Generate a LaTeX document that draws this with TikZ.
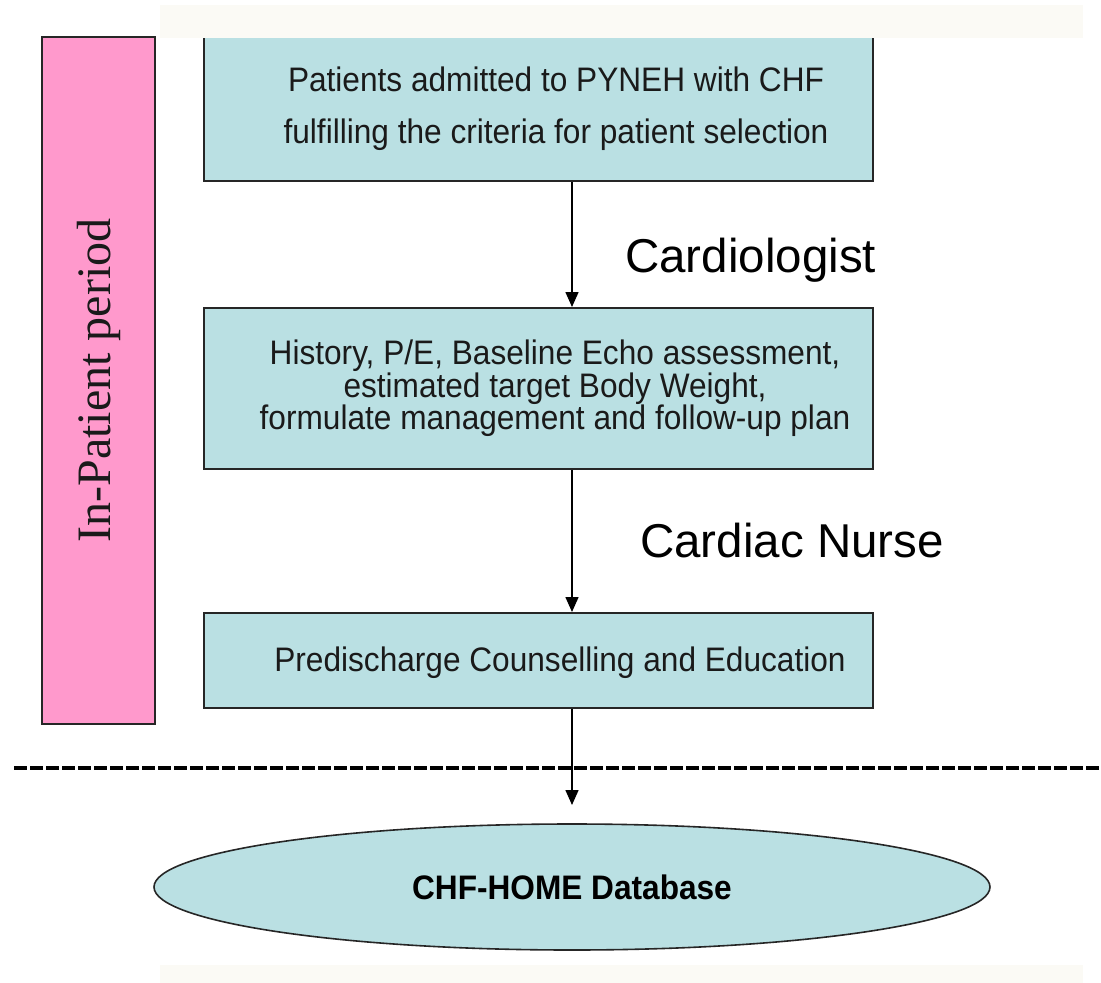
\documentclass[tikz,border=0pt]{standalone}
\usepackage{fontspec}
\setmainfont{Liberation Sans}
\newfontfamily\boxfont[FakeStretch=0.93]{Liberation Sans}
\newfontfamily\labfont{Liberation Sans}
\newfontfamily\seriffont{Liberation Serif}
\usetikzlibrary{shapes.geometric,arrows.meta,calc}
\definecolor{boxfill}{HTML}{BAE0E3}
\definecolor{pinkfill}{HTML}{FF99CC}
\definecolor{stripcol}{HTML}{FBFAF5}
\definecolor{txt}{HTML}{1A1A1A}
\definecolor{edge}{HTML}{262626}
\tikzset{
  flowbox/.style={draw=edge, line width=2pt, fill=boxfill, minimum width=669pt,
    inner sep=0pt},
  boxtext/.style={inner sep=0pt, text=txt, align=center},
  phasebox/.style={draw=edge, line width=2pt, fill=pinkfill, rotate=90,
    minimum width=687pt, minimum height=113pt, inner sep=0pt,
    font=\seriffont\fontsize{48}{50}\selectfont, text=txt},
  dbnode/.style={ellipse, draw=edge, line width=1.6pt, fill=boxfill,
    minimum width=836pt, minimum height=126pt, inner sep=0pt,
    font=\boxfont\bfseries\fontsize{34}{35}\selectfont, text=black},
  rolelab/.style={anchor=base west, inner sep=0pt,
    font=\labfont\fontsize{47.5}{50}\selectfont, text=black},
  flowarrow/.style={line width=1.5pt, draw=black,
    -{Triangle[length=15pt,width=13pt]}},
  divider/.style={line width=4pt, draw=black, dash pattern=on 13pt off 3pt}
}
\begin{document}
\begin{tikzpicture}[x=1pt,y=-1pt]
\useasboundingbox (0,0) rectangle (1101,983);
\fill[white] (0,0) rectangle (1101,983);

% phase bar
\node[phasebox] (phase) at (98.5,380.5) {In-Patient period};

% flow boxes
\node[flowbox, minimum height=145pt] (box1) at (538.5,108.5) {};
\node[boxtext, font=\boxfont\fontsize{34}{52}\selectfont] (t1) at (556,108.5)
  {Patients admitted to PYNEH with CHF\\fulfilling the criteria for patient selection};
\node[flowbox, minimum height=161pt] (box2) at (538.5,388.5) {};
\node[boxtext, font=\boxfont\fontsize{34}{31}\selectfont] (t2) at (555,388.5)
  {History, P/E, Baseline Echo assessment,\\estimated target Body Weight,\\formulate management and follow-up plan};
\node[flowbox, minimum height=95pt] (box3) at (538.5,660.5) {};
\node[boxtext, font=\boxfont\fontsize{34}{36}\selectfont] (t3) at (560,662.5)
  {Predischarge Counselling and Education};

% database
\node[dbnode] (db) at (572,887) {CHF-HOME Database};
\coordinate (dbin) at (572,805);

% role labels
\node[rolelab] (lab1) at (625,272) {Cardiologist};
\node[rolelab] (lab2) at (640,557) {Cardiac Nurse};

% divider
\coordinate (dl) at (14,768);
\coordinate (dr) at (1101,768);
\draw[divider] (dl) -- (dr);

% arrows
\draw[flowarrow] (box1.south -| db.north) -- (box2.north -| db.north);
\draw[flowarrow] (box2.south -| db.north) -- (box3.north -| db.north);
\draw[flowarrow] (box3.south -| db.north) -- (dbin);

% faint background strips
\fill[stripcol] (160,5) rectangle (1083,37.5);
\fill[stripcol] (160,965) rectangle (1083,983);
\end{tikzpicture}
\end{document}
